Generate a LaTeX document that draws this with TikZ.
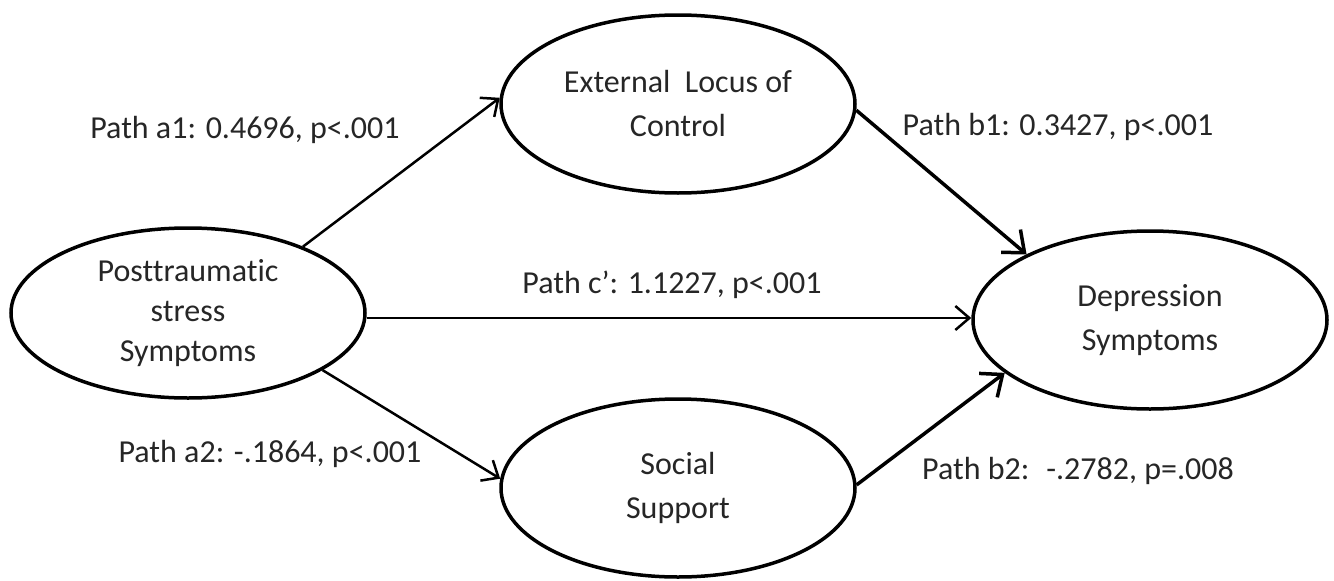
\documentclass[tikz,border=0pt]{standalone}
\usepackage{fontspec}
\setmainfont{Carlito}[Ligatures=NoCommon]
\usetikzlibrary{shapes.geometric,arrows.meta}
\begin{document}
\begin{tikzpicture}[x=1pt,y=-1pt,
  var/.style={draw=black, line width=3.5pt, ellipse, inner sep=0pt,
    minimum width=354pt, minimum height=178pt, align=center,
    font=\fontsize{32}{44}\selectfont, text=black!85},
  lab/.style={anchor=base, inner sep=0pt, font=\fontsize{32}{38}\selectfont, text=black!85},
  thin/.style={line width=2.5pt, -{Straight Barb[length=14pt,width=24pt,line width=2.5pt]}},
  thick/.style={line width=3.5pt, -{Straight Barb[length=18pt,width=30pt,line width=3.5pt]}}]
\useasboundingbox (0,0) rectangle (1334,581);
\node[var, minimum height=170pt, font=\fontsize{32}{40}\selectfont] (L) at (188,313) {Posttraumatic\\stress\\Symptoms};
\node[var] (T) at (678,104) {External~ Locus of\\Control};
\node[var] (B) at (678,488) {Social\\Support};
\node[var] (R) at (1150,320) {Depression\\Symptoms};

\draw[thin] (L.30) -- (T.178);
\draw[thin] (L.east |- 0,318) -- (R.west |- 0,318);
\draw[thin] (L.-23) -- (B.177);
\draw[thick] (T.-2) -- (R.152);
\draw[thick] (B.1) -- (R.-160);

\node[lab] (la1) at (245,138) {Path a1: 0.4696, p<.001};
\node[lab] (lb1) at (1058,135) {Path b1: 0.3427, p<.001};
\node[lab] (lc) at (672,293) {Path c’: 1.1227, p<.001};
\node[lab] (la2) at (270,462) {Path a2: -.1864, p<.001};
\node[lab] (lb2) at (1078,479) {Path b2:~ -.2782, p=.008};
\end{tikzpicture}
\end{document}
